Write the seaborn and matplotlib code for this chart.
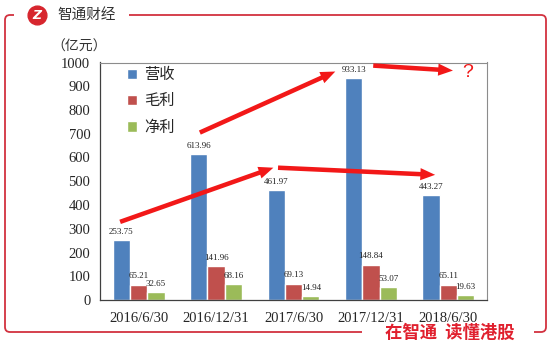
import numpy as np
import pandas as pd
import matplotlib
matplotlib.use("Agg")
import matplotlib.pyplot as plt
import seaborn as sns
from matplotlib.path import Path
from matplotlib.patches import PathPatch
from matplotlib.lines import Line2D

# ---- data ----
periods = ["2016/6/30", "2016/12/31", "2017/6/30", "2017/12/31", "2018/6/30"]
revenue = [253.75, 613.96, 461.97, 933.13, 443.27]
gross_profit = [65.21, 141.96, 69.13, 148.84, 65.11]
net_profit = [32.65, 68.16, 14.94, 53.07, 19.63]
series_names = ["营收", "毛利", "净利"]
series_colors = ["#4F81BD", "#C0504D", "#9BBB59"]
y_ticks = list(range(0, 1001, 100))

df = pd.DataFrame({
    "period": periods * 3,
    "series": np.repeat(series_names, len(periods)),
    "value": revenue + gross_profit + net_profit,
})

sns.set_theme(style="white")
plt.rcParams["font.family"] = ["Noto Sans CJK SC", "DejaVu Sans"]
SERIF = ["Liberation Serif", "DejaVu Serif"]
FRAME_RED = "#D2313F"

W, H = 554, 346
fig = plt.figure(figsize=(W / 100, H / 100), dpi=100)
fig.patch.set_facecolor("white")


def fpt(x, y):
    """pixel position -> figure fraction"""
    return x / W, 1 - y / H


ax = fig.add_axes([100 / W, 1 - 300 / H, 387 / W, 237.5 / H])
sns.barplot(data=df, x="period", y="value", hue="series", order=periods,
            hue_order=series_names, palette=series_colors, width=0.67,
            gap=0, saturation=1, ax=ax)

# value labels above each bar
for cont in ax.containers:
    ax.bar_label(cont, fmt="%.2f", padding=3, fontsize=6.5,
                 family=SERIF, color="#222222")

ax.set_ylim(0, 1000)
ax.set_xlim(-0.5, len(periods) - 0.5)
ax.set_yticks(y_ticks)
ax.set_yticklabels([str(v) for v in y_ticks], family=SERIF, fontsize=10.5)
ax.set_xticks(np.arange(len(periods) + 1) - 0.5)
ax.set_xticklabels([])
ax.set_xticks(np.arange(len(periods)), minor=True)
ax.set_xticklabels(periods, minor=True, family=SERIF, fontsize=10.5)
ax.tick_params(axis="x", which="major", length=4, width=0.8, direction="out",
               color="#404040")
ax.tick_params(axis="x", which="minor", length=0, pad=9)
ax.tick_params(axis="y", length=4, width=0.8, direction="out",
               color="#404040", pad=3)
ax.set_xlabel("")
ax.set_ylabel("")
for side in ("left", "bottom"):
    ax.spines[side].set_color("#404040")
    ax.spines[side].set_linewidth(0.9)
for side in ("top", "right"):
    ax.spines[side].set_color("#8C8C8C")
    ax.spines[side].set_linewidth(0.8)

leg = ax.legend(loc="upper left", bbox_to_anchor=fpt(127, 66),
                bbox_transform=fig.transFigure, frameon=False,
                fontsize=11, handlelength=0.65, handleheight=0.65,
                handletextpad=0.45, labelspacing=0.62, borderpad=0,
                borderaxespad=0)

# trend arrows
arrow_style = "simple,head_length=0.85,head_width=0.7,tail_width=0.26"
arrows = [
    ((-0.24, 329), (1.74, 557)),
    ((1.80, 557), (3.83, 527)),
    ((0.79, 705), (2.54, 962)),
    ((3.03, 987), (4.06, 966)),
]
for start, end in arrows:
    ax.annotate("", xy=end, xytext=start,
                arrowprops=dict(arrowstyle=arrow_style, color="#F21818",
                                lw=0, mutation_scale=12.5,
                                shrinkA=0, shrinkB=0))
ax.text(4.25, 958, "?", color="#F21818", fontsize=14, ha="center",
        va="center", family=["Liberation Sans", "DejaVu Sans"])

# unit
fig.text(*fpt(79, 47), "（亿元）", fontsize=10, ha="center", va="center",
         color="#333333")

# header logo and frame
fig.add_artist(Line2D([37 / W], [1 - 15 / H], marker="o", markersize=13.5,
                      color="#D7262E", transform=fig.transFigure))
fig.text(*fpt(37, 15.5), "Z", color="white", fontsize=9, fontweight="bold",
         style="italic", ha="center", va="center",
         family=["DejaVu Sans"])
fig.text(*fpt(57, 15.5), "智通财经", fontsize=10.5, ha="left", va="center",
         color="#333333")

r = 5
verts_left = [fpt(14, 15), fpt(5 + r, 15), fpt(5, 15), fpt(5, 15 + r),
              fpt(5, 332 - r), fpt(5, 332), fpt(5 + r, 332), fpt(362, 332)]
codes = [Path.MOVETO, Path.LINETO, Path.CURVE3, Path.CURVE3,
         Path.LINETO, Path.CURVE3, Path.CURVE3, Path.LINETO]
verts_right = [fpt(129, 15), fpt(546 - r, 15), fpt(546, 15), fpt(546, 15 + r),
               fpt(546, 332 - r), fpt(546, 332), fpt(546 - r, 332),
               fpt(534, 332)]
for verts in (verts_left, verts_right):
    fig.add_artist(PathPatch(Path(verts, codes), fill=False,
                             edgecolor=FRAME_RED, lw=1.3,
                             transform=fig.transFigure))

fig.text(*fpt(450, 333), "在智通  读懂港股", fontsize=12.5, fontweight="bold",
         ha="center", va="center", color="#E0202E")

fig.savefig("out.png", dpi=100, facecolor="white")
